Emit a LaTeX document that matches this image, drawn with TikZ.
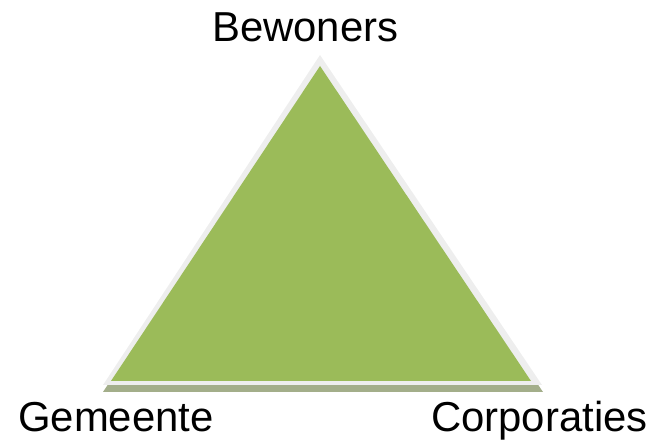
\documentclass[tikz,border=0pt]{standalone}
\usepackage{fontspec}
\setmainfont{Liberation Sans}
\definecolor{trigreen}{HTML}{9BBB59}
\definecolor{triborder}{HTML}{EEEEEE}
\definecolor{trishadow}{HTML}{A3AE8A}
\tikzset{
  lbl/.style={anchor=base west, inner sep=0pt, font=\fontsize{31.4}{36}\selectfont},
}
\begin{document}
\begin{tikzpicture}[x=0.75pt,y=-0.75pt]
\useasboundingbox (0,0) rectangle (654,441);
% shadow
\coordinate (sa) at (320,61);
\coordinate (sl) at (103,392);
\coordinate (sr) at (543,392);
\fill[trishadow] (sa) -- (sl) -- (sr) -- cycle;
% border triangle
\coordinate (ba) at (320,55);
\coordinate (bl) at (103,385);
\coordinate (br) at (542,385);
\fill[triborder] (ba) -- (bl) -- (br) -- cycle;
% green triangle
\coordinate (ga) at (320,66);
\coordinate (gl) at (111,381);
\coordinate (gr) at (531,381);
\fill[trigreen] (ga) -- (gl) -- (gr) -- cycle;
\node[lbl] (bew) at (212,42) {Bewoners};
\node[lbl] (gem) at (18,432) {Gemeente};
\node[lbl] (cor) at (431,432) {Corporaties};
\end{tikzpicture}
\end{document}
